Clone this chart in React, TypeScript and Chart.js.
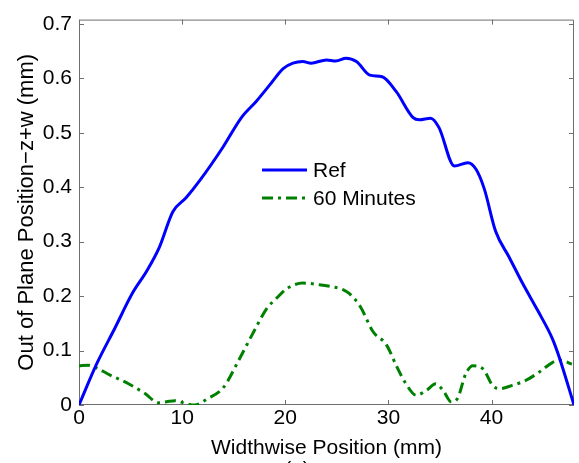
import React, { useEffect, useRef } from 'react';
import { Chart, registerables } from 'chart.js';

Chart.register(...registerables);

// ---- Data ----
const refX = [0, 1.7, 3.5, 5.2, 6.6, 7.8, 9.1, 10.4, 11.7, 13.97, 15.75, 17.2, 18.5, 19.8, 20.75, 21.7, 22.5, 24.0, 24.9, 25.9, 26.9, 28.2, 29.4, 30.75, 32.4, 33.0, 34.1, 34.9, 36.4, 37.7, 38.5, 39.3, 40.4, 41.7, 43.0, 44.5, 45.9, 46.6, 48.0];
const refY = [0, 0.075, 0.142, 0.206, 0.247, 0.29, 0.355, 0.381, 0.412, 0.474, 0.528, 0.558, 0.588, 0.618, 0.628, 0.631, 0.628, 0.634, 0.632, 0.637, 0.631, 0.606, 0.603, 0.576, 0.528, 0.524, 0.527, 0.51, 0.439, 0.445, 0.433, 0.397, 0.319, 0.272, 0.224, 0.173, 0.122, 0.086, 0.0];

const min60X = [0, 0.9, 1.6, 2.8, 4.8, 6.4, 7.7, 8.5, 9.3, 10.3, 11.2, 12.5, 14.0, 15.4, 16.9, 18.2, 19.1, 20.1, 20.9, 21.7, 23.3, 24.3, 25.6, 26.2, 27.3, 28.5, 29.8, 30.85, 31.7, 32.7, 33.7, 34.6, 35.3, 36.1, 36.7, 37.5, 38.2, 39.2, 40.1, 40.8, 42.0, 43.3, 44.6, 45.9, 46.7, 47.8];
const min60Y = [0.072, 0.073, 0.069, 0.057, 0.039, 0.021, 0.004, 0.006, 0.008, 0.003, 0.0, 0.012, 0.032, 0.079, 0.133, 0.177, 0.195, 0.213, 0.221, 0.224, 0.221, 0.218, 0.212, 0.205, 0.18, 0.135, 0.111, 0.069, 0.039, 0.018, 0.027, 0.039, 0.027, 0.006, 0.012, 0.057, 0.072, 0.066, 0.036, 0.03, 0.036, 0.045, 0.06, 0.078, 0.082, 0.075];

const xTicks = [0, 10, 20, 30, 40];
const yTicks = [0, 0.1, 0.2, 0.3, 0.4, 0.5, 0.6, 0.7];
const seriesLabels = ['Ref', '60 Minutes'];
const xTitle = 'Widthwise Position (mm)';
const yTitle = 'Out of Plane Position\u2212z+w (mm)';
const panelLabel = '(a)';

const FONT = '"Liberation Sans", Arial, Helvetica, sans-serif';
const BLUE = '#0000ff';
const GREEN = '#008000';
const FRAME = '#6e6e6e';
const DASHDOT = [11, 5, 3, 5];

const framePlugin = {
  id: 'matlabFrame',
  beforeDatasetsDraw(chart: any) {
    const { ctx, chartArea } = chart;
    const { left, right, top, bottom } = chartArea;
    const xs = chart.scales.x;
    const ys = chart.scales.y;
    ctx.save();
    ctx.strokeStyle = FRAME;
    ctx.lineWidth = 1;
    ctx.beginPath();
    ctx.rect(left + 0.5, top + 0.5, right - left - 1, bottom - top - 1);
    const tl = 5;
    xTicks.forEach((v) => {
      const px = Math.round(xs.getPixelForValue(v)) + 0.5;
      ctx.moveTo(px, bottom);
      ctx.lineTo(px, bottom - tl);
      ctx.moveTo(px, top);
      ctx.lineTo(px, top + tl);
    });
    yTicks.forEach((v) => {
      const py = Math.round(ys.getPixelForValue(v)) + 0.5;
      ctx.moveTo(left, py);
      ctx.lineTo(left + tl, py);
      ctx.moveTo(right, py);
      ctx.lineTo(right - tl, py);
    });
    ctx.stroke();
    ctx.restore();
  },
  afterDraw(chart: any) {
    const { ctx } = chart;
    ctx.save();
    ctx.font = `21px ${FONT}`;
    ctx.fillStyle = '#000';
    ctx.textBaseline = 'middle';
    ctx.textAlign = 'left';
    // legend
    const lx0 = 262, lx1 = 307, tx = 313;
    const rows = [
      { y: 170, color: BLUE, dash: [] as number[], label: seriesLabels[0] },
      { y: 198, color: GREEN, dash: DASHDOT, label: seriesLabels[1] },
    ];
    rows.forEach((r) => {
      ctx.save();
      ctx.strokeStyle = r.color;
      ctx.lineWidth = 3;
      ctx.setLineDash(r.dash);
      ctx.beginPath();
      ctx.moveTo(lx0, r.y);
      ctx.lineTo(lx1, r.y);
      ctx.stroke();
      ctx.restore();
      ctx.fillText(r.label, tx, r.y + 1);
    });
    // panel label (cut off at bottom)
    ctx.textAlign = 'center';
    ctx.fillText(panelLabel, 297, 470);
    ctx.restore();
  },
};

export default function App() {
  const canvasRef = useRef<HTMLCanvasElement | null>(null);

  useEffect(() => {
    const canvas = canvasRef.current;
    if (!canvas) return;
    const chart = new Chart(canvas, {
      type: 'line',
      data: {
        datasets: [
          {
            label: seriesLabels[0],
            data: refX.map((x, i) => ({ x, y: refY[i] })),
            borderColor: BLUE,
            borderWidth: 3,
            pointRadius: 0,
            cubicInterpolationMode: 'monotone',
            fill: false,
          },
          {
            label: seriesLabels[1],
            data: min60X.map((x, i) => ({ x, y: min60Y[i] })),
            borderColor: GREEN,
            borderWidth: 3,
            borderDash: DASHDOT,
            pointRadius: 0,
            cubicInterpolationMode: 'monotone',
            fill: false,
          },
        ],
      },
      options: {
        responsive: false,
        animation: false,
        devicePixelRatio: 1,
        layout: { padding: { top: 14, right: 5, left: 0, bottom: 0 } },
        plugins: {
          legend: { display: false },
          tooltip: { enabled: false },
        },
        scales: {
          x: {
            type: 'linear',
            min: 0,
            max: 48,
            grid: { display: false, drawTicks: false },
            border: { display: false },
            afterBuildTicks: (axis: any) => {
              axis.ticks = xTicks.map((v) => ({ value: v }));
            },
            afterFit: (scale: any) => {
              scale.height = 58;
            },
            ticks: {
              padding: 1,
              color: '#000',
              font: { family: FONT, size: 21 },
              maxRotation: 0,
              callback: (v: any) => String(v),
            },
            title: {
              display: true,
              text: xTitle,
              color: '#000',
              font: { family: FONT, size: 21 },
              padding: { top: 0, bottom: 2 },
            },
          },
          y: {
            type: 'linear',
            min: 0,
            max: 0.708,
            grid: { display: false, drawTicks: false },
            border: { display: false },
            afterBuildTicks: (axis: any) => {
              axis.ticks = yTicks.map((v) => ({ value: v }));
            },
            afterFit: (scale: any) => {
              scale.width = 79;
            },
            ticks: {
              padding: 7,
              color: '#000',
              font: { family: FONT, size: 21 },
              callback: (v: any) => (Number(v) === 0 ? '0' : Number(v).toFixed(1)),
            },
            title: {
              display: true,
              text: yTitle,
              color: '#000',
              font: { family: FONT, size: 22 },
              padding: { top: 14, bottom: 0 },
            },
          },
        },
      },
      plugins: [framePlugin],
    } as any);
    return () => chart.destroy();
  }, []);

  return (
    <div style={{ position: 'absolute', left: 0, top: 0, width: 579, height: 463, background: '#fff', overflow: 'hidden' }}>
      <canvas ref={canvasRef} width={579} height={463} style={{ display: 'block', width: 579, height: 463 }} />
    </div>
  );
}
